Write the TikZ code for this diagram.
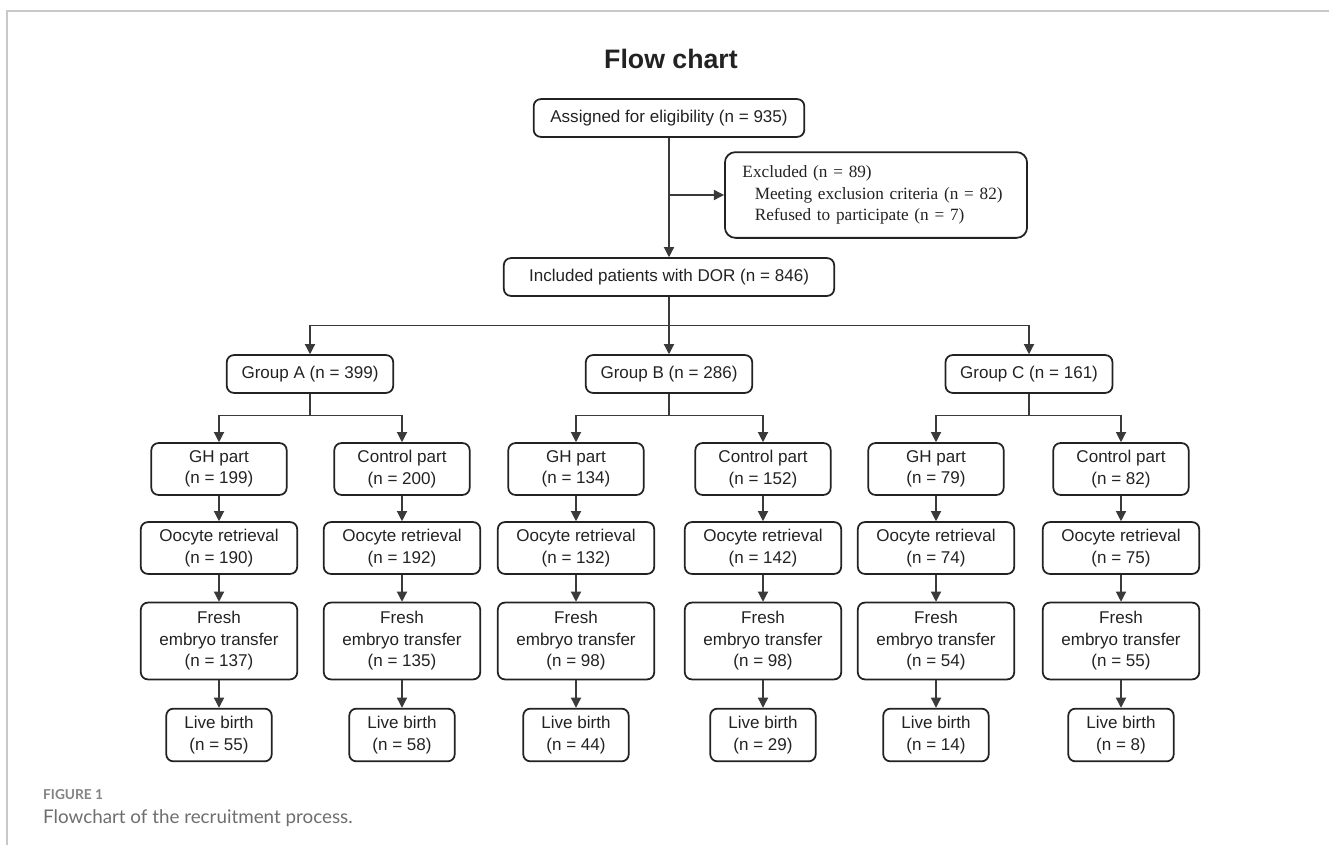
\documentclass[tikz,border=0pt]{standalone}
\usepackage{fontspec}
\setmainfont{Liberation Sans}
\newfontfamily\timesish{Liberation Serif}
\newfontfamily\capfont{Lato}
\usepackage{xcolor}
\usepackage{tikz}
\usetikzlibrary{arrows.meta, positioning, calc}
\definecolor{ink}{HTML}{222222}
\definecolor{linkgray}{HTML}{3A3A3A}
\definecolor{framegray}{HTML}{C8C8C8}
\definecolor{capgray}{HTML}{6E6E6E}
\tikzset{
  box/.style={
    rectangle, rounded corners=4pt, draw=ink, line width=1pt,
    inner sep=0pt, align=center, text=ink,
    font=\fontsize{9.7}{12.2}\selectfont
  },
  onebox/.style={box, minimum width=#1, minimum height=21.5pt},
  part/.style={box, minimum width=77pt, minimum height=29.5pt},
  oocyte/.style={box, minimum width=89pt, minimum height=29.5pt},
  fresh/.style={box, minimum width=89pt, minimum height=43.7pt},
  live/.style={box, minimum width=60pt, minimum height=30pt},
  link/.style={linkgray, line width=0.7pt},
  arrow/.style={link, -{Triangle[length=5.8pt, width=5.8pt]}}
}

\begin{document}
\begin{tikzpicture}[x=0.02cm, y=-0.02cm]
  \useasboundingbox (0,0) rectangle (1329,845);
  \draw[framegray, line width=0.8pt] (1329,11) -- (7,11) -- (7,845);

  \node[anchor=base, text=ink, font=\fontsize{15.2}{18}\selectfont\bfseries] (title) at (671,68) {Flow chart};

  \node[onebox=154pt] (asg) at (669,118) {Assigned for eligibility (n = 935)};
  \node[box, rounded corners=6pt, align=left, text width=152pt, inner xsep=10pt,
        minimum height=48.8pt, font=\fontsize{9.8}{12.3}\selectfont\timesish] (exc) at (876,195)
        {Excluded (n = 89)\\\hspace*{7pt}Meeting exclusion criteria (n = 82)\\\hspace*{7pt}Refused to participate (n = 7)};
  \node[onebox=188pt] (inc) at (669,277) {Included patients with DOR (n = 846)};

  \node[onebox=94.7pt] (ga) at (310,374) {Group A (n = 399)};
  \node[onebox=94.7pt] (gb) at (669,374) {Group B (n = 286)};
  \node[onebox=95pt]   (gc) at (1029,374) {Group C (n = 161)};

  \coordinate (brk) at (asg |- exc.west);
  \draw[arrow] (asg) -- (inc);
  \draw[arrow] (brk) -- (exc.west);
  \draw[link] (inc.south) -- ++(0,29) coordinate (hub);
  \draw[arrow] (hub) -| (ga.north);
  \draw[arrow] (hub) -- (gb.north);
  \draw[arrow] (hub) -| (gc.north);

  % one column per part of each group
  \foreach \id/\x/\lab/\np/\no/\nf/\nl in {
      aG/219/GH/199/190/137/55, aC/402/Control/200/192/135/58,
      bG/576/GH/134/132/98/44,  bC/763/Control/152/142/98/29,
      cG/936/GH/79/74/54/14,    cC/1121/Control/82/75/55/8} {
    \node[part]   (p\id) at (\x,469) {\lab{} part\\(n = \np)};
    \node[oocyte] (o\id) at (\x,548) {Oocyte retrieval\\(n = \no)};
    \node[fresh]  (f\id) at (\x,641) {Fresh\\embryo transfer\\(n = \nf)};
    \node[live]   (l\id) at (\x,735) {Live birth\\(n = \nl)};
    \draw[arrow] (p\id) -- (o\id);
    \draw[arrow] (o\id) -- (f\id);
    \draw[arrow] (f\id) -- (l\id);
  }

  \foreach \g/\a/\b in {ga/aG/aC, gb/bG/bC, gc/cG/cC} {
    \draw[arrow] (\g.south) -- ++(0,22) -| (p\a.north);
    \draw[arrow] (\g.south) -- ++(0,22) -| (p\b.north);
  }

  \node[anchor=base west, text=capgray!85, font=\fontsize{7.8}{10}\selectfont\capfont\bfseries] (fig) at (37,799) {FIGURE 1};
  \node[anchor=base west, text=capgray, font=\fontsize{10.7}{12}\selectfont\capfont] (cap) at (37,823) {Flowchart of the recruitment process.};
\end{tikzpicture}
\end{document}
